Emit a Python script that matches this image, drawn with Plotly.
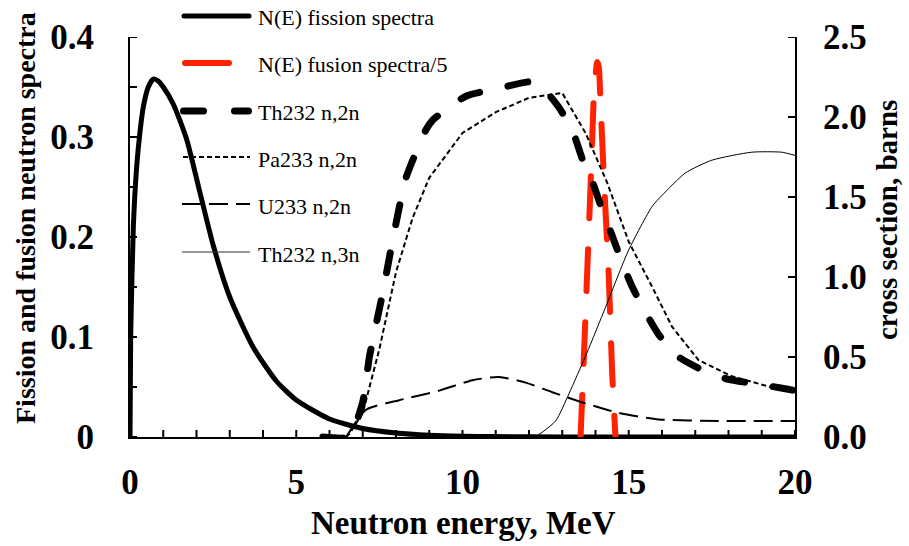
import plotly.graph_objects as go

# ---- neutron spectra (left axis) ----
fission_E = [0, 0.02, 0.1, 0.2, 0.3, 0.4, 0.55, 0.7, 0.85, 1.0, 1.3, 1.7, 2.1, 2.5, 3.0,
             3.7, 4.4, 5.0, 6.0, 7.0, 8.0, 9.0, 10.0, 11.0, 12.0, 14.0, 20.0]
fission_N = [0, 0.10, 0.21, 0.27, 0.305, 0.33, 0.35, 0.358, 0.356, 0.35, 0.333, 0.298,
             0.245, 0.192, 0.14, 0.09, 0.056, 0.037, 0.018, 0.0085, 0.004, 0.0018,
             0.0008, 0.0004, 0.0002, 0, 0]

fusion_E = [13.55, 13.65, 13.75, 13.85, 13.95, 14.05, 14.1, 14.15, 14.25, 14.4, 14.5, 14.6]
fusion_N = [0, 0.08, 0.165, 0.25, 0.34, 0.375, 0.37, 0.335, 0.26, 0.16, 0.065, 0]

# ---- cross sections, barns (right axis) ----
th232_n2n_E = [5.8, 6.6, 7.0, 7.2, 7.6, 7.9, 8.3, 8.9, 9.1, 10.1, 11.1, 12.0, 12.3, 12.6,
               12.9, 13.3, 13.6, 13.9, 14.2, 14.5, 14.8, 15.1, 15.5, 15.9, 16.5, 17.2,
               18.0, 18.9, 19.75, 20.0]
th232_n2n_S = [0, 0, 0.22, 0.5, 0.9, 1.23, 1.62, 1.92, 1.98, 2.13, 2.18, 2.22, 2.2, 2.14,
               2.06, 1.92, 1.74, 1.6, 1.42, 1.26, 1.09, 0.94, 0.78, 0.64, 0.5, 0.42,
               0.36, 0.33, 0.30, 0.29]

pa233_n2n_E = [6.5, 6.6, 7.0, 7.5, 8.0, 8.5, 9.0, 10.0, 11.0, 12.0, 13.0, 13.7, 14.35,
               15.0, 15.7, 16.3, 17.1, 18.1, 19.3, 20.0]
pa233_n2n_S = [0, 0.02, 0.15, 0.55, 1.03, 1.37, 1.62, 1.9, 2.03, 2.12, 2.15, 1.9, 1.59,
               1.22, 0.94, 0.69, 0.48, 0.38, 0.31, 0.28]

u233_n2n_E = [6.5, 7.1, 8.1, 9.3, 10.3, 11.1, 11.9, 12.7, 13.7, 14.7, 15.9, 17.7, 20.0]
u233_n2n_S = [0, 0.17, 0.23, 0.29, 0.355, 0.375, 0.34, 0.28, 0.21, 0.15, 0.11, 0.10, 0.10]

th232_n3n_E = [12.2, 12.8, 13.2, 13.73, 14.3, 15.0, 15.7, 16.0, 16.7, 17.5, 18.7, 19.6, 20.0]
th232_n3n_S = [0, 0.1, 0.27, 0.52, 0.81, 1.17, 1.44, 1.51, 1.65, 1.73, 1.78, 1.78, 1.76]

legend_names = ["N(E) fission spectra", "N(E) fusion spectra/5", "Th232 n,2n",
                "Pa233 n,2n", "U233 n,2n", "Th232 n,3n"]

# axis ranges and inward tick-mark positions
X_RANGE, Y_RANGE, Y2_RANGE = [0, 20], [0, 0.4], [0, 2.5]
x_tick_marks = list(range(0, 21))
y_tick_marks = [0.05 * i for i in range(9)]
y2_tick_marks = [0.5 * i for i in range(6)]

RED = "#ff2200"
SERIF = "Liberation Serif"

L, R, T, B = 130, 114, 37, 109
PW, PH = 909 - L - R, 546 - T - B
TICK_PX = 7

fig = go.Figure()

fig.add_trace(go.Scatter(x=fission_E, y=fission_N, mode="lines", name=legend_names[0],
                         line=dict(color="black", width=5, shape="spline", smoothing=0.6)))
fig.add_trace(go.Scatter(x=fusion_E, y=fusion_N, mode="lines", name=legend_names[1],
                         line=dict(color=RED, width=6, dash="42px,31px", shape="spline", smoothing=0.5)))
fig.add_trace(go.Scatter(x=th232_n2n_E, y=th232_n2n_S, mode="lines", name=legend_names[2], yaxis="y2",
                         line=dict(color="black", width=7, dash="20px,29px", shape="spline", smoothing=0.5)))
fig.add_trace(go.Scatter(x=pa233_n2n_E, y=pa233_n2n_S, mode="lines", name=legend_names[3], yaxis="y2",
                         line=dict(color="black", width=2, dash="5px,3px")))
fig.add_trace(go.Scatter(x=u233_n2n_E, y=u233_n2n_S, mode="lines", name=legend_names[4], yaxis="y2",
                         line=dict(color="black", width=2, dash="19px,8px", shape="spline", smoothing=0.6)))
fig.add_trace(go.Scatter(x=th232_n3n_E, y=th232_n3n_S, mode="lines", name=legend_names[5], yaxis="y2",
                         line=dict(color="black", width=1, shape="spline", smoothing=0.6)))

# ---- inward tick marks, drawn as short line segments in axis units ----
dx = TICK_PX * (X_RANGE[1] - X_RANGE[0]) / PW
dy = TICK_PX * (Y_RANGE[1] - Y_RANGE[0]) / PH
dy2 = TICK_PX * (Y2_RANGE[1] - Y2_RANGE[0]) / PH

tx, ty = [], []
for v in x_tick_marks:
    tx += [v, v, None]
    ty += [Y_RANGE[0], Y_RANGE[0] + dy, None]
for v in y_tick_marks:
    tx += [X_RANGE[0], X_RANGE[0] + dx, None]
    ty += [v, v, None]
tx2, ty2 = [], []
for v in y2_tick_marks:
    tx2 += [X_RANGE[1] - dx, X_RANGE[1], None]
    ty2 += [v, v, None]

fig.add_trace(go.Scatter(x=tx, y=ty, mode="lines", hoverinfo="skip", showlegend=False,
                         line=dict(color="black", width=2)))
fig.add_trace(go.Scatter(x=tx2, y=ty2, mode="lines", yaxis="y2", hoverinfo="skip", showlegend=False,
                         line=dict(color="black", width=2)))


# ---- hand-built legend in the upper left ----
def px(xp):
    return (xp - L) / PW


def py(yp):
    return (T + PH - yp) / PH


legend_rows = [
    dict(y=16, x0=184, x1=249, color="black", width=5, dash="solid"),
    dict(y=63, x0=185, x1=229, color=RED, width=6, dash="solid"),
    dict(y=111, x0=183.5, x1=248.5, color="black", width=7, dash="20px,31px"),
    dict(y=157, x0=183, x1=250, color="black", width=2, dash="5px,3px"),
    dict(y=204, x0=182, x1=250, color="black", width=2, dash="19px,8px"),
    dict(y=252, x0=182, x1=250, color="#333333", width=1, dash="solid"),
]
for name, row in zip(legend_names, legend_rows):
    fig.add_shape(type="line", xref="paper", yref="paper",
                  x0=px(row["x0"]), x1=px(row["x1"]), y0=py(row["y"]), y1=py(row["y"]),
                  line=dict(color=row["color"], width=row["width"], dash=row["dash"]))
    fig.add_annotation(text=name, xref="paper", yref="paper", x=px(256), y=py(row["y"] + 2),
                       xanchor="left", yanchor="middle", showarrow=False,
                       font=dict(family=SERIF, size=22, color="black"))

# ---- axis titles ----
fig.add_annotation(text="Neutron energy, MeV", xref="paper", yref="paper",
                   x=px(463), y=py(523), xanchor="center", yanchor="middle", showarrow=False,
                   font=dict(family=SERIF, size=33, color="black", weight="bold"))
fig.add_annotation(text="Fission and fusion neutron spectra", xref="paper", yref="paper",
                   x=px(25), y=py(218), xanchor="center", yanchor="middle", showarrow=False,
                   textangle=-90, font=dict(family=SERIF, size=28, color="black", weight="bold"))
fig.add_annotation(text="cross section, barns", xref="paper", yref="paper",
                   x=px(887), y=py(220), xanchor="center", yanchor="middle", showarrow=False,
                   textangle=-90, font=dict(family=SERIF, size=29, color="black", weight="bold"))

tickfont = dict(family=SERIF, size=35, color="black", weight="bold")

fig.update_layout(
    width=909, height=546,
    margin=dict(l=L, r=R, t=T, b=B),
    paper_bgcolor="white", plot_bgcolor="white",
    showlegend=False,
    xaxis=dict(range=X_RANGE, tick0=0, dtick=5, ticks="",
               showline=True, linewidth=2, linecolor="black", showgrid=False, zeroline=False,
               tickfont=tickfont, ticklabelstandoff=13),
    yaxis=dict(range=Y_RANGE, tick0=0, dtick=0.1, ticks="",
               showline=True, linewidth=2, linecolor="black", showgrid=False, zeroline=False,
               tickfont=tickfont, ticklabelstandoff=27),
    yaxis2=dict(range=Y2_RANGE, tick0=0, dtick=0.5, tickformat=".1f", overlaying="y", side="right",
                ticks="",
                showline=True, linewidth=2, linecolor="black", showgrid=False, zeroline=False,
                tickfont=tickfont, ticklabelstandoff=19),
)

# round line ends on the heavy dashed and solid strokes
round_caps = """
var gd = document.getElementById('{plot_id}');
function roundCaps() {
  gd.querySelectorAll('path').forEach(function (p) {
    var w = parseFloat(p.style.strokeWidth || p.getAttribute('stroke-width') || '0');
    if (w >= 4) { p.style.strokeLinecap = 'round'; p.style.strokeLinejoin = 'round'; }
  });
}
roundCaps();
gd.on('plotly_afterplot', roundCaps);
"""

fig.write_html("out.html", post_script=round_caps)
